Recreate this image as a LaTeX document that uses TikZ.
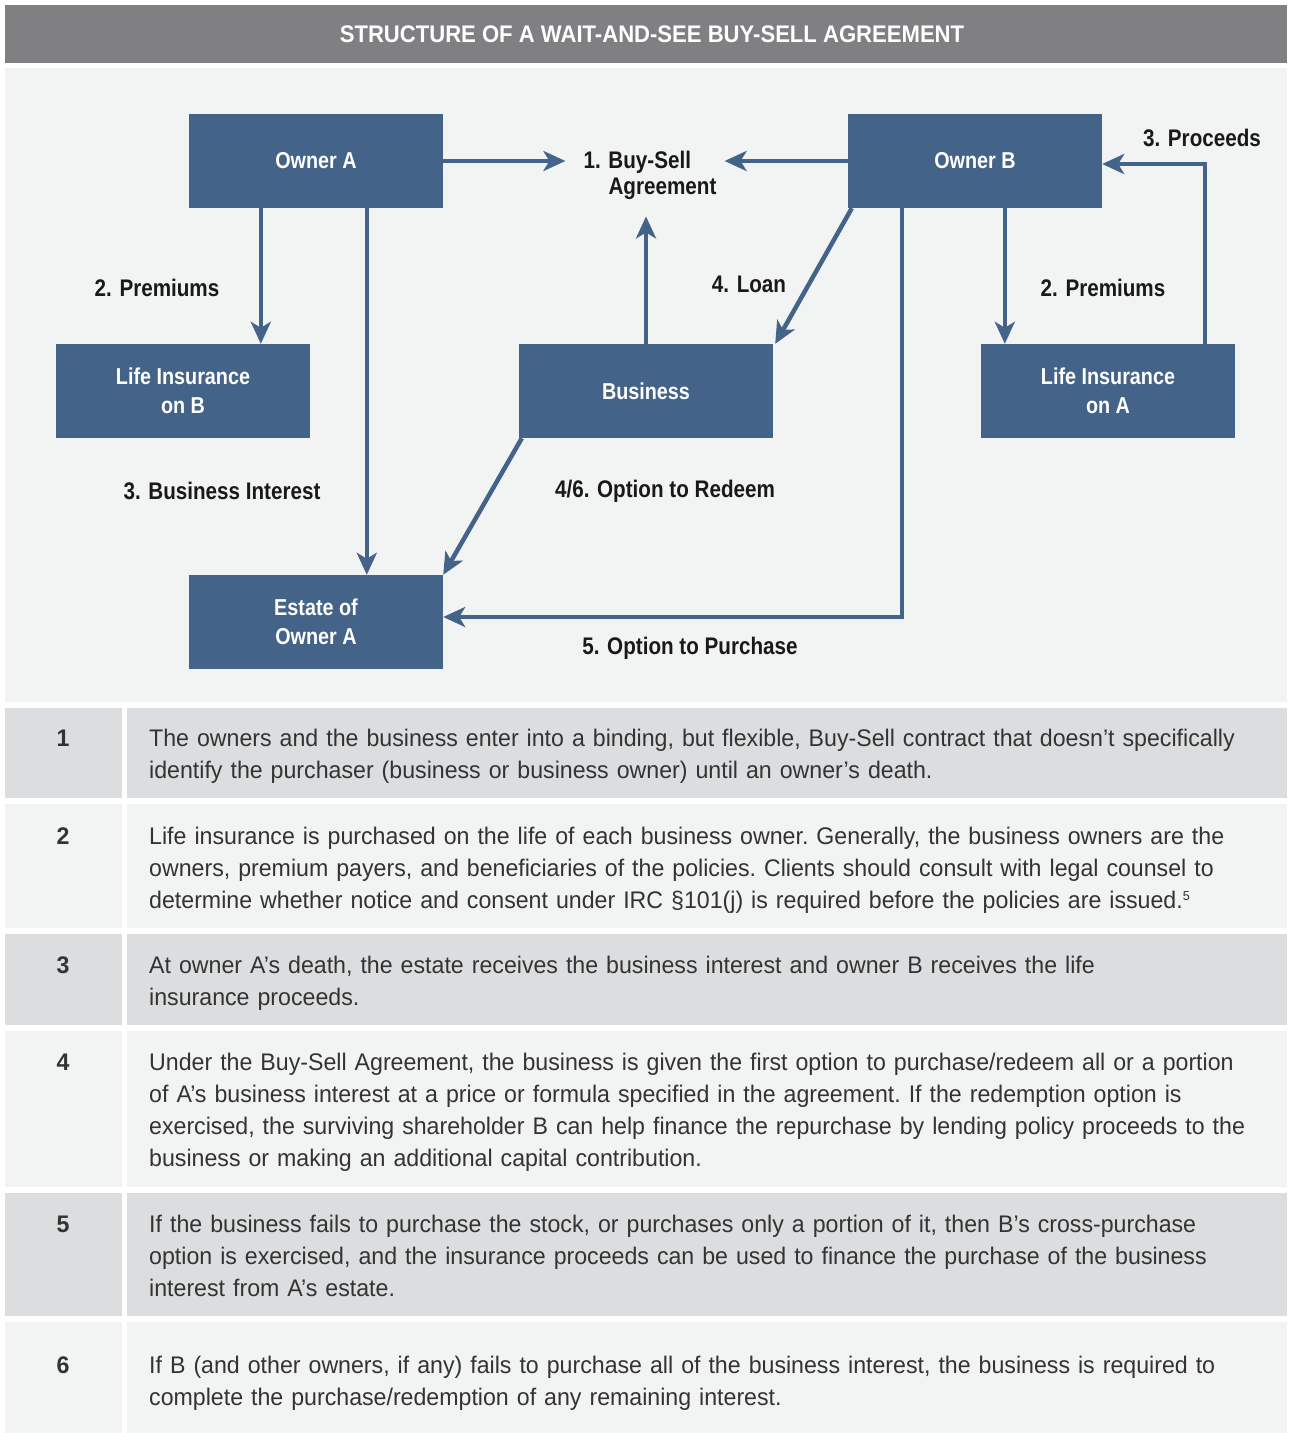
\documentclass[tikz,border=0pt]{standalone}
\usepackage{fontspec}
\usetikzlibrary{arrows.meta}
\newfontfamily\condfont[FakeStretch=0.86]{Liberation Sans}
\newfontfamily\headfont[FakeStretch=0.92]{Liberation Sans}
\newfontfamily\rowfont[FakeStretch=0.965]{Liberation Sans}
\definecolor{boxblue}{HTML}{436389}
\definecolor{titlegray}{HTML}{808082}
\definecolor{panelgray}{HTML}{F2F3F3}
\definecolor{rowgray}{HTML}{DCDDDF}
\definecolor{inkgray}{HTML}{333333}
\tikzset{
  ownbox/.style={fill=boxblue, text=white, minimum width=254pt, minimum height=94pt, inner sep=0pt, align=center, font=\condfont\bfseries\fontsize{23}{29}\selectfont},
  lbl/.style={inner sep=0pt, text=black!90, font=\condfont\bfseries\fontsize{24}{26}\selectfont},
  flow/.style={draw=boxblue, line width=4.5pt, -{Stealth[length=22pt,width=20pt,inset=6pt]}},
  numtxt/.style={anchor=base, inner sep=0pt, text=inkgray, font=\rowfont\bfseries\fontsize{24}{32}\selectfont},
  rowtxt/.style={anchor=base west, inner sep=0pt, text width=1132pt, align=left, text=inkgray, font=\rowfont\frenchspacing\fontsize{24}{32}\selectfont}
}
\newcommand{\fnmark}[1]{\raisebox{8pt}{\fontsize{13}{13}\selectfont #1}}
\begin{document}
\begin{tikzpicture}[x=1pt,y=-1pt]
\useasboundingbox (0,0) rectangle (1290,1433);
\fill[white] (0,0) rectangle (1290,1433);
% title bar and panel
\fill[titlegray] (5,5) rectangle (1287,63);
\node[inner sep=0pt, text=white, font=\headfont\bfseries\fontsize{24}{26}\selectfont] (title) at (652,34) {STRUCTURE OF A WAIT-AND-SEE BUY-SELL AGREEMENT};
\fill[panelgray] (5,68) rectangle (1287,702);

% boxes
\node[ownbox] (ownerA) at (316,161) {Owner A};
\node[ownbox] (ownerB) at (975,161) {Owner B};
\node[ownbox] (lifeB) at (183,391) {Life Insurance\\on B};
\node[ownbox] (business) at (646,391) {Business};
\node[ownbox] (lifeA) at (1108,391) {Life Insurance\\on A};
\node[ownbox] (estate) at (316,622) {Estate of\\Owner A};

% labels
\node[lbl, align=left] (agree) at (650,175) {1. Buy-Sell\\\hspace*{25pt}Agreement};
\node[lbl] (premA) at (157,288) {2. Premiums};
\node[lbl] (loan) at (749,284) {4. Loan};
\node[lbl] (premB) at (1103,288) {2. Premiums};
\node[lbl] (proceeds) at (1202,138) {3. Proceeds};
\node[lbl] (busint) at (222,491) {3. Business Interest};
\node[lbl] (redeem) at (665,491) {4/6. Option to Redeem};
\node[lbl] (purchase) at (690,648) {5. Option to Purchase};

% connectors
\draw[flow] (ownerA.east) -- ([xshift=-18pt]agree.west |- ownerA.east);
\draw[flow] (ownerB.west) -- ([xshift=8pt]agree.east |- ownerB.west);
\draw[flow] (business.north) -- ([yshift=-17pt]agree.south -| business.north);
\draw[flow] ([xshift=72pt]ownerA.south west) -- ([xshift=72pt]ownerA.south west |- lifeB.north);
\draw[flow] ([xshift=178pt]ownerA.south west) -- ([xshift=178pt]ownerA.south west |- estate.north);
\draw[flow] ([xshift=4pt]ownerB.south west) -- ([xshift=2pt]business.north east);
\draw[flow] ([xshift=54pt]ownerB.south west) |- ([yshift=5pt]estate.east);
\draw[flow] ([xshift=157pt]ownerB.south west) -- ([xshift=157pt]ownerB.south west |- lifeA.north);
\draw[flow] ([xshift=-30pt]lifeA.north east) |- ([yshift=-3pt]ownerB.east);
\draw[flow] ([xshift=3pt]business.south west) -- (estate.north east);

% table rows
\fill[rowgray] (5,708) rectangle (122,798);
\fill[rowgray] (127,708) rectangle (1287,798);
\fill[panelgray] (5,804) rectangle (122,928);
\fill[panelgray] (127,804) rectangle (1287,928);
\fill[rowgray] (5,934) rectangle (122,1025);
\fill[rowgray] (127,934) rectangle (1287,1025);
\fill[panelgray] (5,1031) rectangle (122,1187);
\fill[panelgray] (127,1031) rectangle (1287,1187);
\fill[rowgray] (5,1193) rectangle (122,1316);
\fill[rowgray] (127,1193) rectangle (1287,1316);
\fill[panelgray] (5,1322) rectangle (122,1433);
\fill[panelgray] (127,1322) rectangle (1287,1433);

\node[numtxt] (num1) at (63,746) {1};
\node[rowtxt] (txt1) at (149,746) {The owners and the business enter into a binding, but flexible, Buy-Sell contract that doesn’t specifically\\identify the purchaser (business or business owner) until an owner’s death.};
\node[numtxt] (num2) at (63,844) {2};
\node[rowtxt] (txt2) at (149,844) {Life insurance is purchased on the life of each business owner. Generally, the business owners are the\\owners, premium payers, and beneficiaries of the policies. Clients should consult with legal counsel to\\determine whether notice and consent under IRC §101(j) is required before the policies are issued.\fnmark{5}};
\node[numtxt] (num3) at (63,973) {3};
\node[rowtxt] (txt3) at (149,973) {At owner A’s death, the estate receives the business interest and owner B receives the life\\insurance proceeds.};
\node[numtxt] (num4) at (63,1070) {4};
\node[rowtxt] (txt4) at (149,1070) {Under the Buy-Sell Agreement, the business is given the first option to purchase/redeem all or a portion\\of A’s business interest at a price or formula specified in the agreement. If the redemption option is\\exercised, the surviving shareholder B can help finance the repurchase by lending policy proceeds to the\\business or making an additional capital contribution.};
\node[numtxt] (num5) at (63,1232) {5};
\node[rowtxt] (txt5) at (149,1232) {If the business fails to purchase the stock, or purchases only a portion of it, then B’s cross-purchase\\option is exercised, and the insurance proceeds can be used to finance the purchase of the business\\interest from A’s estate.};
\node[numtxt] (num6) at (63,1373) {6};
\node[rowtxt] (txt6) at (149,1373) {If B (and other owners, if any) fails to purchase all of the business interest, the business is required to\\complete the purchase/redemption of any remaining interest.};
\end{tikzpicture}
\end{document}
